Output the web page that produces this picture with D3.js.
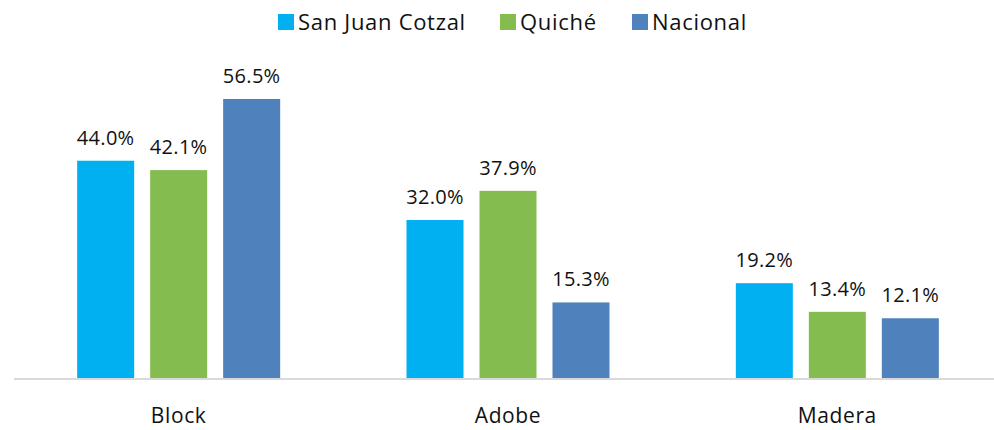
<!DOCTYPE html>
<html>
<head>
<meta charset="utf-8">
<script src="https://cdn.jsdelivr.net/npm/d3@7"></script>
<style>
  body { margin: 0; background: #fff; }
  text { font-family: "Open Sans", "Noto Sans", sans-serif; fill: #111; }
</style>
</head>
<body>
<svg id="chart" width="994" height="430"></svg>
<script>
var categories = ["Block", "Adobe", "Madera"];
var seriesNames = ["San Juan Cotzal", "Quiché", "Nacional"];
var sanJuan = [44.0, 32.0, 19.2];
var quiche = [42.1, 37.9, 13.4];
var nacional = [56.5, 15.3, 12.1];
var colors = ["#00b0f0", "#85bc4f", "#4f81bd"];

var allSeries = [sanJuan, quiche, nacional];

var svg = d3.select("#chart");
var base = 378;

var x0 = d3.scaleBand()
  .domain(categories)
  .range([14, 1002]);

var x1 = d3.scaleBand()
  .domain(seriesNames)
  .range([-101.5, 101.5])
  .paddingInner(0.219);

var y = d3.scaleLinear()
  .domain([0, 56.5])
  .range([base, 99]);

var rows = [];
categories.forEach(function(c, i) {
  seriesNames.forEach(function(s, j) {
    rows.push({cat: c, ser: s, val: allSeries[j][i], col: colors[j]});
  });
});

var g = svg.append("g");

g.selectAll("rect.bar")
  .data(rows)
  .enter().append("rect")
  .attr("class", "bar")
  .attr("x", function(d) { return x0(d.cat) + x0.bandwidth() / 2 + x1(d.ser); })
  .attr("y", function(d) { return y(d.val); })
  .attr("width", x1.bandwidth())
  .attr("height", function(d) { return base - y(d.val); })
  .attr("fill", function(d) { return d.col; });

g.selectAll("text.val")
  .data(rows)
  .enter().append("text")
  .attr("class", "val")
  .attr("x", function(d) { return x0(d.cat) + x0.bandwidth() / 2 + x1(d.ser) + x1.bandwidth() / 2; })
  .attr("y", function(d) { return y(d.val) - 16; })
  .attr("text-anchor", "middle")
  .style("font-size", "20px")
  .style("letter-spacing", "0.3px")
  .text(function(d) { return d.val.toFixed(1) + "%"; });

// axis line
svg.append("line")
  .attr("x1", 14).attr("x2", 994)
  .attr("y1", base + 1).attr("y2", base + 1)
  .attr("stroke", "#d9d9d9")
  .attr("stroke-width", 2);

svg.selectAll("text.cat")
  .data(categories)
  .enter().append("text")
  .attr("class", "cat")
  .attr("x", function(d) { return x0(d) + x0.bandwidth() / 2; })
  .attr("y", 423)
  .attr("text-anchor", "middle")
  .style("font-size", "21px")
  .style("letter-spacing", "0.6px")
  .text(function(d) { return d; });

// legend
var legendX = [278, 500, 632];
var legend = svg.selectAll("g.leg")
  .data(seriesNames)
  .enter().append("g")
  .attr("class", "leg")
  .attr("transform", function(d, i) { return "translate(" + legendX[i] + ",14)"; });

legend.append("rect")
  .attr("width", 16).attr("height", 16)
  .attr("fill", function(d, i) { return colors[i]; });

legend.append("text")
  .attr("x", 20).attr("y", 16)
  .style("font-size", "22px")
  .style("letter-spacing", "0.7px")
  .text(function(d) { return d; });
</script>
</body>
</html>
